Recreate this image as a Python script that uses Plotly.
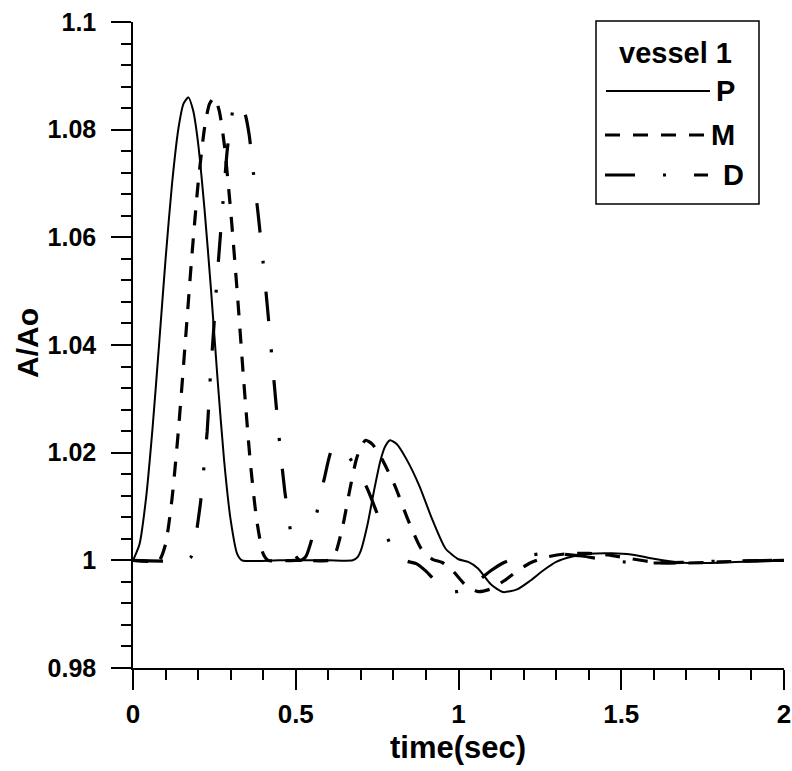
import plotly.graph_objects as go

# ---- data: normalised cross-sectional area A/Ao vs time at three sites of vessel 1
P_t = [0, 0.02, 0.04, 0.06, 0.08, 0.10, 0.12, 0.14, 0.155, 0.17, 0.185, 0.20, 0.22, 0.24,
       0.26, 0.28, 0.30, 0.32, 0.335, 0.45, 0.60, 0.675, 0.69, 0.70, 0.72, 0.74, 0.76,
       0.775, 0.79, 0.81, 0.84, 0.88, 0.92, 0.96, 1.00, 1.03, 1.06, 1.10, 1.137, 1.18,
       1.22, 1.26, 1.30, 1.35, 1.40, 1.47, 1.53, 1.60, 1.68, 1.76, 1.85, 2.0]
P_v = [1.0, 1.003, 1.0115, 1.0245, 1.040, 1.0559, 1.070, 1.0804, 1.0848, 1.086, 1.0835,
       1.0775, 1.065, 1.050, 1.0335, 1.0185, 1.0075, 1.0012, 1.0, 1.0, 1.0, 1.0, 1.0006,
       1.0018, 1.0065, 1.0128, 1.0185, 1.0212, 1.0223, 1.0216, 1.0188, 1.0138, 1.0075,
       1.0022, 1.0002, 0.9997, 0.9985, 0.9955, 0.9941, 0.9946, 0.9962, 0.9981, 0.9997,
       1.0007, 1.0012, 1.0013, 1.0011, 1.0003, 0.9996, 0.9995, 0.9997, 0.9999]

M_t = [0, 0.08, 0.10, 0.12, 0.14, 0.16, 0.18, 0.20, 0.22, 0.235, 0.25, 0.265, 0.28, 0.30,
       0.32, 0.34, 0.36, 0.38, 0.40, 0.415, 0.50, 0.60, 0.615, 0.625, 0.645, 0.665, 0.685,
       0.70, 0.715, 0.735, 0.765, 0.805, 0.845, 0.885, 0.92, 0.95, 0.98, 1.02, 1.06, 1.10,
       1.14, 1.18, 1.22, 1.27, 1.33, 1.40, 1.46, 1.53, 1.61, 1.70, 1.80, 1.90, 2.0]
M_v = [1.0, 1.0, 1.003, 1.0115, 1.0245, 1.040, 1.0559, 1.070, 1.0804, 1.0848, 1.086,
       1.0835, 1.0775, 1.065, 1.050, 1.0335, 1.0185, 1.0075, 1.0012, 1.0, 1.0, 1.0,
       1.0006, 1.0018, 1.0065, 1.0128, 1.0185, 1.0212, 1.0223, 1.0216, 1.0188, 1.0138,
       1.0075, 1.0022, 1.0002, 0.9996, 0.9982, 0.9955, 0.9942, 0.9947, 0.9962, 0.9980,
       0.9995, 1.0006, 1.0012, 1.0013, 1.0010, 1.0003, 0.9996, 0.9995, 0.9997, 0.9999, 1.0]

D_t = [0, 0.165, 0.178, 0.19, 0.198, 0.208, 0.218, 0.228, 0.2375, 0.248, 0.2565, 0.268,
       0.2777, 0.29, 0.30, 0.31, 0.324, 0.335, 0.345, 0.357, 0.37, 0.385, 0.40, 0.413,
       0.4255, 0.438, 0.4507, 0.466, 0.4854, 0.50, 0.515, 0.53, 0.55, 0.568, 0.59, 0.61,
       0.63, 0.645, 0.68, 0.72, 0.76, 0.80, 0.84, 0.87, 0.90, 0.94, 0.98, 1.02, 1.06,
       1.10, 1.14, 1.19, 1.25, 1.31, 1.38, 1.45, 1.53, 1.62, 1.72, 1.85, 2.0]
D_v = [1.0, 1.0, 1.0006, 1.003, 1.0065, 1.011, 1.0174, 1.024, 1.034, 1.043, 1.0509, 1.060,
       1.0675, 1.0765, 1.081, 1.0844, 1.0852, 1.0842, 1.0828, 1.079, 1.072, 1.064, 1.0552,
       1.047, 1.0385, 1.030, 1.0217, 1.013, 1.0049, 1.0008, 1.0, 1.0006, 1.0041, 1.0098,
       1.0158, 1.0204, 1.0212, 1.0205, 1.0178, 1.0133, 1.0072, 1.002, 0.9999, 0.9994,
       0.998, 0.9955, 0.9941, 0.9946, 0.9962, 0.9981, 0.9996, 1.0006, 1.0012, 1.0012,
       1.0008, 1.0001, 0.9996, 0.9995, 0.9997, 0.9999, 1.0]

series_names = ["P", "M", "D"]
x_tickvals = [0, 0.5, 1, 1.5, 2]
x_ticktext = ["0", "0.5", "1", "1.5", "2"]
y_tickvals = [0.98, 1.0, 1.02, 1.04, 1.06, 1.08, 1.1]
y_ticktext = ["0.98", "1", "1.02", "1.04", "1.06", "1.08", "1.1"]
legend_title = "vessel 1"

# ---- styling
W, H = 792, 771
ML, MR, MT, MB = 133, 8, 22, 103
FONT = "Liberation Sans, Arial, sans-serif"
dash_styles = {"P": "solid", "M": "15px,13px", "D": "30px,28px,3px,28px"}
widths = {"P": 2, "M": 3.2, "D": 3.2}

fig = go.Figure()
for name, xs, ys in zip(series_names, [P_t, M_t, D_t], [P_v, M_v, D_v]):
    fig.add_trace(go.Scatter(
        x=xs, y=ys, mode="lines", name=name, showlegend=False,
        line=dict(color="black", width=widths[name], dash=dash_styles[name],
                  shape="spline", smoothing=0.6),
    ))

axis_common = dict(
    showgrid=False, zeroline=False, showline=True, linecolor="black", linewidth=1.5,
    ticks="outside", ticklen=20, tickwidth=1.5, tickcolor="black", automargin=False,
)
fig.update_xaxes(range=[0, 2], tickvals=x_tickvals, ticktext=x_ticktext,
                 ticklabelstandoff=2,
                 tickfont=dict(family=FONT, size=26, color="black", weight="bold"),
                 minor=dict(dtick=0.1, ticks="outside", ticklen=10, tickwidth=1.5,
                            tickcolor="black"),
                 **axis_common)
fig.update_yaxes(range=[0.98, 1.1], tickvals=y_tickvals, ticktext=y_ticktext,
                 ticklabelstandoff=10,
                 tickfont=dict(family=FONT, size=25, color="black", weight="bold"),
                 minor=dict(dtick=0.004, ticks="outside", ticklen=10, tickwidth=1.5,
                            tickcolor="black"),
                 **axis_common)


def px_x(px):
    return (px - ML) / (W - ML - MR)


def px_y(py):
    return (H - MB - py) / (H - MT - MB)


annotations = [
    dict(text="time(sec)", x=px_x(458), y=px_y(747), xref="paper", yref="paper",
         showarrow=False, xanchor="center", yanchor="middle",
         font=dict(family=FONT, size=31, color="black", weight="bold")),
    dict(text="A/Ao", x=px_x(27), y=px_y(343), xref="paper", yref="paper",
         showarrow=False, xanchor="center", yanchor="middle", textangle=-90,
         font=dict(family=FONT, size=30, color="black", weight="bold")),
    dict(text=legend_title, x=px_x(675), y=px_y(53), xref="paper", yref="paper",
         showarrow=False, xanchor="center", yanchor="middle",
         font=dict(family=FONT, size=29, color="black", weight="bold")),
]

shapes = [
    dict(type="rect", xref="paper", yref="paper", x0=px_x(596), x1=px_x(759),
         y0=px_y(204), y1=px_y(21), line=dict(color="black", width=1.5),
         fillcolor="white", layer="above"),
]

# legend sample lines and their labels
legend_rows = {"P": (606, 710, 91, 714), "M": (605, 705, 135, 709), "D": (605, 708, 175, 721)}
for name in series_names:
    x0, x1, yy, tx = legend_rows[name]
    shapes.append(dict(type="line", xref="paper", yref="paper", x0=px_x(x0), x1=px_x(x1),
                       y0=px_y(yy), y1=px_y(yy), layer="above",
                       line=dict(color="black", width=widths[name], dash=dash_styles[name])))
    annotations.append(dict(text=name, x=px_x(tx), y=px_y(yy), xref="paper", yref="paper",
                            showarrow=False, xanchor="left", yanchor="middle",
                            font=dict(family=FONT, size=29, color="black", weight="bold")))

fig.update_layout(
    width=W, height=H, margin=dict(l=ML, r=MR, t=MT, b=MB),
    paper_bgcolor="white", plot_bgcolor="white",
    annotations=annotations, shapes=shapes, showlegend=False,
)

fig.write_html("out.html")
